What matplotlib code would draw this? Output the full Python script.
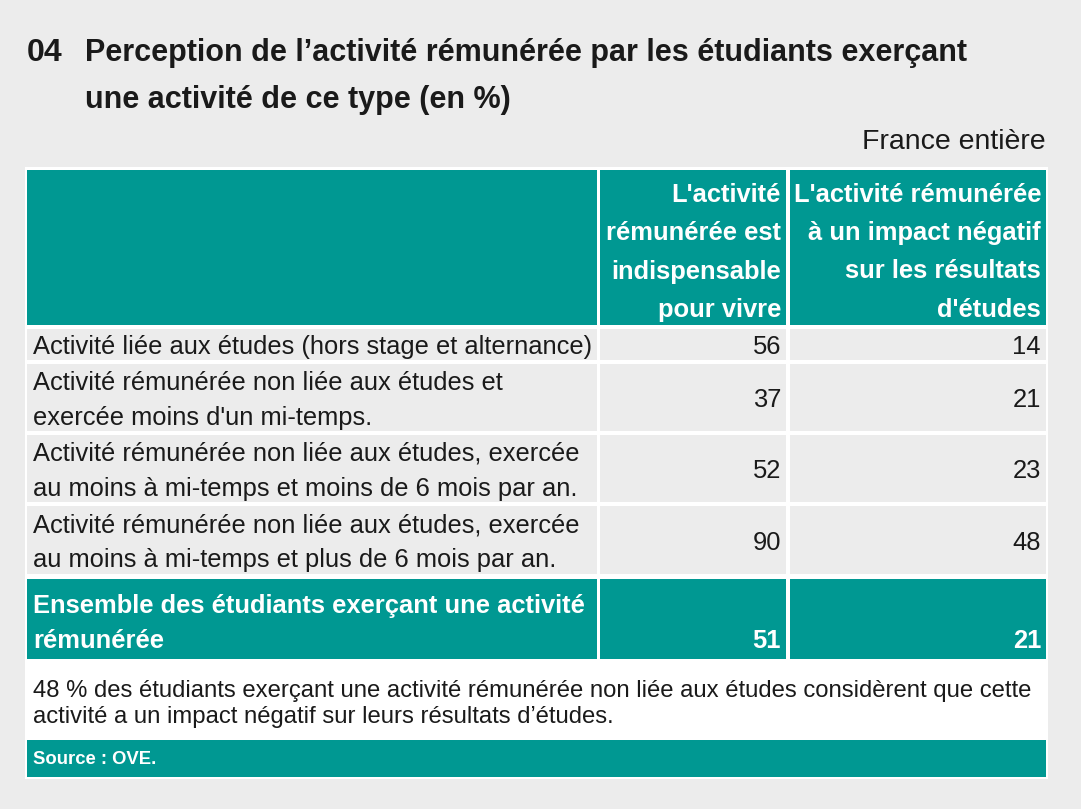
import matplotlib
matplotlib.use("Agg")
import matplotlib.pyplot as plt
from matplotlib.patches import Rectangle
from matplotlib import font_manager as fm

# ---------------- data ----------------
title_number = "04"
title_lines = ["Perception de l\u2019activit\u00e9 r\u00e9mun\u00e9r\u00e9e par les \u00e9tudiants exer\u00e7ant",
               "une activit\u00e9 de ce type (en %)"]
scope = "France enti\u00e8re"
col_headers = [
    ["L'activit\u00e9", "r\u00e9mun\u00e9r\u00e9e est", "indispensable", "pour vivre"],
    ["L'activit\u00e9 r\u00e9mun\u00e9r\u00e9e", "\u00e0 un impact n\u00e9gatif", "sur les r\u00e9sultats", "d'\u00e9tudes"],
]
row_labels = [
    ["Activit\u00e9 li\u00e9e aux \u00e9tudes (hors stage et alternance)"],
    ["Activit\u00e9 r\u00e9mun\u00e9r\u00e9e non li\u00e9e aux \u00e9tudes et", "exerc\u00e9e moins d'un mi-temps."],
    ["Activit\u00e9 r\u00e9mun\u00e9r\u00e9e non li\u00e9e aux \u00e9tudes, exerc\u00e9e", "au moins \u00e0 mi-temps et moins de 6 mois par an."],
    ["Activit\u00e9 r\u00e9mun\u00e9r\u00e9e non li\u00e9e aux \u00e9tudes, exerc\u00e9e", "au moins \u00e0 mi-temps et plus de 6 mois par an."],
]
indispensable = [56, 37, 52, 90]
impact_negatif = [14, 21, 23, 48]
total_label = ["Ensemble des \u00e9tudiants exer\u00e7ant une activit\u00e9", "r\u00e9mun\u00e9r\u00e9e"]
total_values = [51, 21]
footnote = ["48 % des \u00e9tudiants exer\u00e7ant une activit\u00e9 r\u00e9mun\u00e9r\u00e9e non li\u00e9e aux \u00e9tudes consid\u00e8rent que cette",
            "activit\u00e9 a un impact n\u00e9gatif sur leurs r\u00e9sultats d\u2019\u00e9tudes."]
source = "Source : OVE."

# ---------------- style ----------------
names = {f.name for f in fm.fontManager.ttflist}
FAM = ["Liberation Sans Narrow", "DejaVu Sans"] if "Liberation Sans Narrow" in names else ["Liberation Sans", "DejaVu Sans"]
BG = "#ececec"
TEAL = "#009892"
TXT = "#1a1a1a"
DY = 2.5  # vertical text offset

W, H = 1081, 809
fig = plt.figure(figsize=(W / 100, H / 100), dpi=100, facecolor=BG)
ax = fig.add_axes([0, 0, 1, 1])
ax.set_xlim(0, W)
ax.set_ylim(H, 0)
ax.axis("off")

def rect(x0, y0, x1, y1, color):
    ax.add_patch(Rectangle((x0, y0), x1 - x0, y1 - y0, facecolor=color, edgecolor="none"))

def txt(x, y, s, size, color=TXT, weight="normal", ha="left", va="center"):
    ax.text(x, y + DY, s, fontsize=size, color=color, fontweight=weight, ha=ha, va=va, family=FAM)

BODY = 18.4

# title
txt(27, 50, title_number, 23, weight="bold")
txt(85, 50, title_lines[0], 22, weight="bold")
txt(85, 97, title_lines[1], 22, weight="bold")
txt(1046, 139, scope, 20.5, ha="right")

# table frame
rect(25, 167, 1048, 779, "white")
cols = [(27, 597), (600, 786), (790, 1046)]
header_y = (170, 325)
rows_y = [(329, 360), (364, 431), (435, 502), (506, 574)]
total_y = (579, 659)
source_y = (740, 777)

# header
for c in cols:
    rect(c[0], header_y[0], c[1], header_y[1], TEAL)
line_ys = [192, 230.5, 269, 307]
for ci, hdr in enumerate(col_headers):
    for li, s in enumerate(hdr):
        txt(cols[ci + 1][1] - 5, line_ys[li], s, BODY, color="white", weight="bold", ha="right")

# body rows
for ri, (y0, y1) in enumerate(rows_y):
    for c in cols:
        rect(c[0], y0, c[1], y1, BG)
    yc = (y0 + y1) / 2
    lines = row_labels[ri]
    if len(lines) == 1:
        txt(33, yc, lines[0], BODY)
    else:
        txt(33, yc - 17.5, lines[0], BODY)
        txt(33, yc + 17.5, lines[1], BODY)
    txt(cols[1][1] - 5, yc, str(indispensable[ri]), BODY, ha="right")
    txt(cols[2][1] - 5, yc, str(impact_negatif[ri]), BODY, ha="right")

# total row
for c in cols:
    rect(c[0], total_y[0], c[1], total_y[1], TEAL)
txt(33, 603, total_label[0], BODY, color="white", weight="bold")
txt(33, 638, total_label[1], BODY, color="white", weight="bold")
txt(cols[1][1] - 5, 638, str(total_values[0]), BODY, color="white", weight="bold", ha="right")
txt(cols[2][1] - 5, 638, str(total_values[1]), BODY, color="white", weight="bold", ha="right")

# footnote
txt(33, 688, footnote[0], 17.2)
txt(33, 715, footnote[1], 17.2)

# source
rect(27, source_y[0], 1046, source_y[1], TEAL)
txt(33, 757, source, 13.3, color="white", weight="bold")

fig.savefig("out.png", dpi=100, facecolor=BG)
